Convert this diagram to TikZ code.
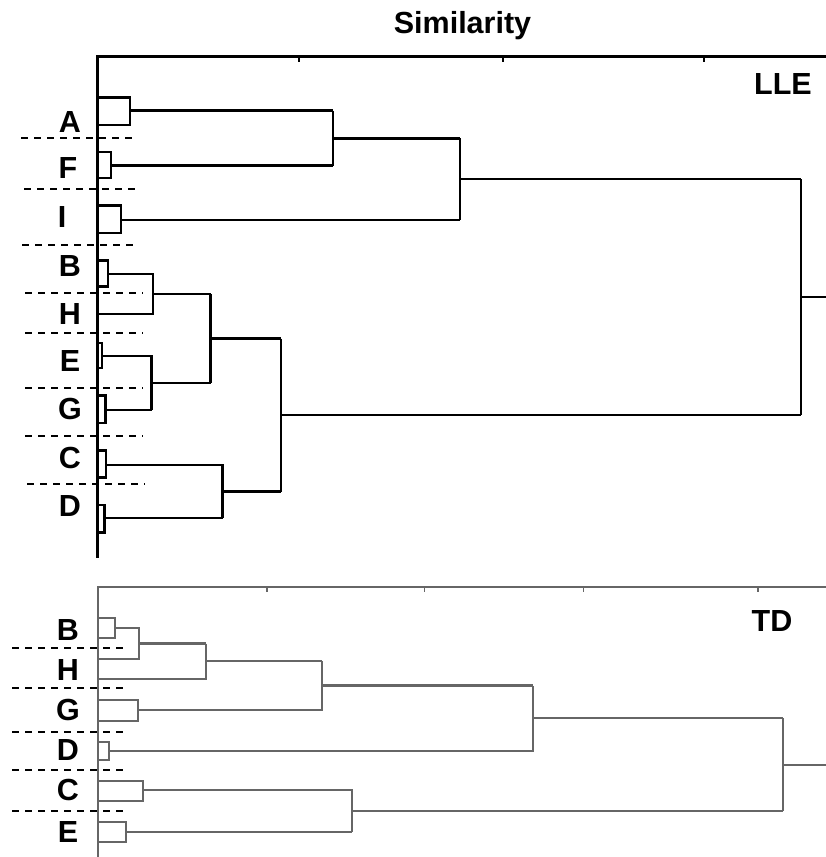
\documentclass[tikz,border=0pt]{standalone}
\usepackage{fontspec}
\setmainfont{Liberation Sans}
\begin{document}
\begin{tikzpicture}[x=1pt,y=-1pt,
  lle/.style={line width=2.8pt,black,line join=miter},
  td/.style={line width=2.2pt,black!60,line join=miter},
  cut/.style={line width=2pt,black,dash pattern=on 7pt off 6pt},
  lab/.style={font=\fontsize{30.5}{30.5}\selectfont\bfseries,inner sep=0pt,anchor=center}]
\useasboundingbox (0,0) rectangle (826,857);
% title
\node[lab] (title) at (462.5,26) {Similarity};
% ===== LLE panel =====
\draw[lle] (826,56.7) -- (97.7,56.7) -- (97.7,558);
\foreach \x in {299.3,502.7,704} \draw[lle,line width=1.8pt] (\x,56.7) -- (\x,61.5);
\node[lab] (lle) at (783,84) {LLE};
% leaves
\draw[lle] (97.7,97.3) rectangle (130,125);
\draw[lle] (130,110.7) -- (333,110.7);
\draw[lle] (97.7,152) rectangle (111,178);
\draw[lle] (111,165.7) -- (333,165.7);
\draw[lle] (333,110.7) -- (333,165.7);
\draw[lle] (333,138.2) -- (460,138.2);
\draw[lle] (97.7,205.7) rectangle (121,233);
\draw[lle] (121,220) -- (460,220);
\draw[lle] (460,138.2) -- (460,220);
\draw[lle] (460,179) -- (801,179);
\draw[lle] (97.7,260.7) rectangle (108,286.7);
\draw[lle] (108,274) -| (153,314) -- (97.7,314);
\draw[lle] (153,294) -- (210.7,294);
\draw[lle] (97.7,343) rectangle (102,368);
\draw[lle] (102,356) -| (151.7,410);
\draw[lle] (97.7,395.7) rectangle (105.7,423);
\draw[lle] (105.7,410) -- (151.7,410);
\draw[lle] (151.7,383) -- (210.7,383);
\draw[lle] (210.7,294) -- (210.7,383);
\draw[lle] (210.7,338.5) -- (281,338.5);
\draw[lle] (97.7,450.7) rectangle (106,477.7);
\draw[lle] (106,465) -| (222.7,518);
\draw[lle] (97.7,505) rectangle (104.7,532.7);
\draw[lle] (104.7,518) -- (222.7,518);
\draw[lle] (222.7,491.5) -- (281,491.5);
\draw[lle] (281,338.5) -- (281,491.5);
\draw[lle] (281,415) -- (801,415);
\draw[lle] (801,179) -- (801,415);
\draw[lle] (801,297) -- (826,297);
% cut lines
\foreach \y/\a/\b in {137.7/21/137,189/24/140,245/22/139,293.3/25/143,333/25/143,387.7/25/143,436/25/143,484/27/145}
  \draw[cut] (\a,\y) -- (\b,\y);
% labels
\node[lab] (la) at (70,122) {A};
\node[lab] (lf) at (68,168) {F};
\node[lab] (li) at (62,217) {I};
\node[lab] (lb) at (70,265.8) {B};
\node[lab] (lh) at (70,313.7) {H};
\node[lab] (le) at (70,360.8) {E};
\node[lab] (lg) at (70,409) {G};
\node[lab] (lc) at (70,457.5) {C};
\node[lab] (ld) at (70,505.8) {D};
% ===== TD panel =====
\draw[td] (826,587) -- (97.7,587) -- (97.7,857);
\foreach \x in {266.7,424.3,583.3,757.7} \draw[td,line width=1.6pt] (\x,587) -- (\x,591.5);
\node[lab] (tdl) at (772,621) {TD};
\draw[td] (97.7,618) rectangle (115,638);
\draw[td] (115,628) -| (139.3,659) -- (97.7,659);
\draw[td] (139.3,643.5) -- (206,643.5);
\draw[td] (206,643.5) |- (97.7,679);
\draw[td] (206,661) -- (322,661);
\draw[td] (97.7,700) rectangle (137.7,720.7);
\draw[td] (137.7,710) -| (322,661);
\draw[td] (322,685.5) -- (533,685.5);
\draw[td] (97.7,741.7) rectangle (109,760);
\draw[td] (109,751) -| (533,685.5);
\draw[td] (533,718) -- (783,718);
\draw[td] (97.7,780.7) rectangle (143,801);
\draw[td] (143,790) -| (352,831.7);
\draw[td] (97.7,821.7) rectangle (126,841.7);
\draw[td] (126,831.7) -- (352,831.7);
\draw[td] (352,811) -- (783,811);
\draw[td] (783,718) -- (783,811);
\draw[td] (783,765) -- (826,765);
\foreach \y in {648.3,687.7,731.7,770,811}
  \draw[cut] (12,\y) -- (128,\y);
\node[lab] (tb) at (68,630) {B};
\node[lab] (th) at (68,670) {H};
\node[lab] (tg) at (68,710) {G};
\node[lab] (tdd) at (68,750) {D};
\node[lab] (tc) at (68,790) {C};
\node[lab] (te) at (68,831.7) {E};
\end{tikzpicture}
\end{document}
